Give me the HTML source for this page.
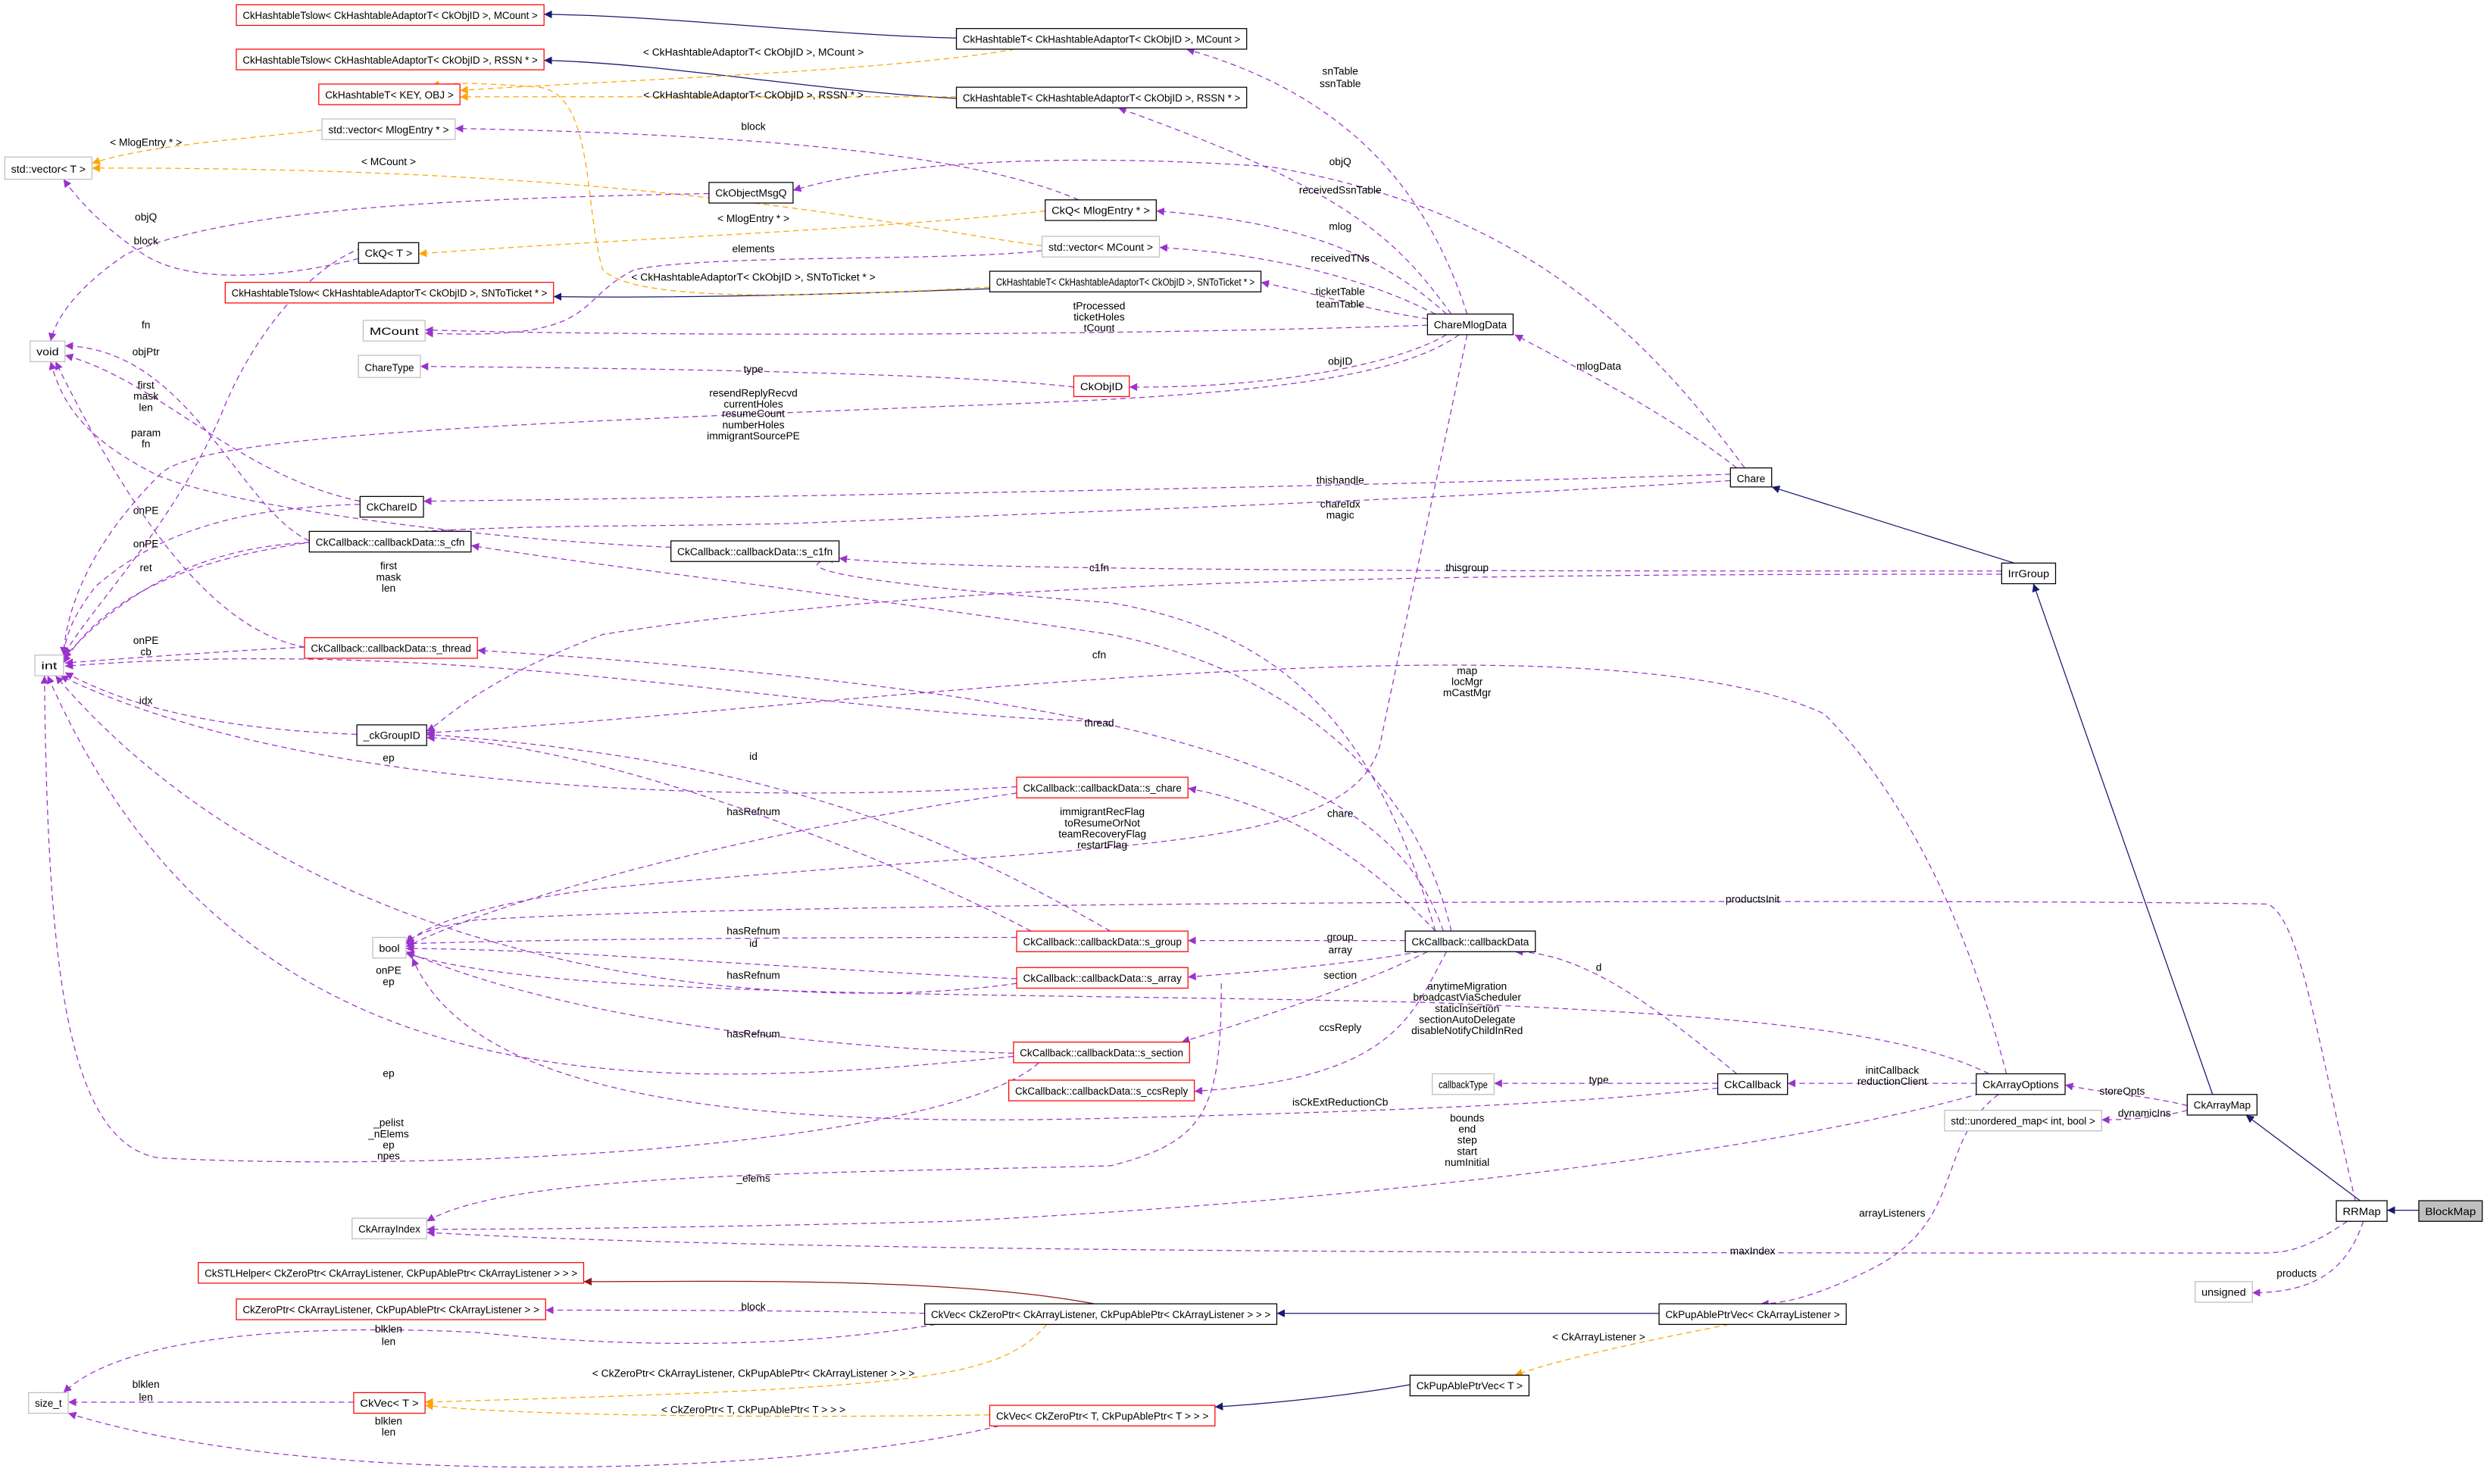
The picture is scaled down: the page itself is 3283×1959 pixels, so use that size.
<!DOCTYPE html>
<html><head><meta charset="utf-8"><style>
html,body{margin:0;padding:0;background:#fff;}
svg{display:block;}
text{font-family:"Liberation Sans Narrow","Liberation Sans",sans-serif;font-size:6.6px;fill:#000;}
.n text{text-anchor:middle;}
.l{text-anchor:middle;}
.p{stroke:#9a32cd;fill:none;stroke-width:.6;stroke-dasharray:3.5,2.5;marker-end:url(#mp);}
.o{stroke:#ffa500;fill:none;stroke-width:.6;stroke-dasharray:3.5,2.5;marker-end:url(#mo);}
.s{stroke:#191970;fill:none;stroke-width:.6;marker-end:url(#mn);}
.r{stroke:#8b1a1a;fill:none;stroke-width:.6;marker-end:url(#mr);}
.bk{fill:#fff;stroke:#000;stroke-width:.6;}
.gr{fill:#fff;stroke:#bfbfbf;stroke-width:.6;}
.rd{fill:#fff;stroke:#ff0000;stroke-width:.6;}
</style></head><body>
<svg width="3283" height="1959" viewBox="0 0 1568 935.6" preserveAspectRatio="none" xmlns="http://www.w3.org/2000/svg">
<defs>
<marker id="mp" viewBox="0 0 10 10" refX="10" refY="5" markerWidth="5" markerHeight="5" markerUnits="userSpaceOnUse" orient="auto"><path d="M0,0L10,5L0,10z" fill="#9a32cd"/></marker>
<marker id="mo" viewBox="0 0 10 10" refX="10" refY="5" markerWidth="5" markerHeight="5" markerUnits="userSpaceOnUse" orient="auto"><path d="M0,0L10,5L0,10z" fill="#ffa500"/></marker>
<marker id="mn" viewBox="0 0 10 10" refX="10" refY="5" markerWidth="5" markerHeight="5" markerUnits="userSpaceOnUse" orient="auto"><path d="M0,0L10,5L0,10z" fill="#191970"/></marker>
<marker id="mr" viewBox="0 0 10 10" refX="10" refY="5" markerWidth="5" markerHeight="5" markerUnits="userSpaceOnUse" orient="auto"><path d="M0,0L10,5L0,10z" fill="#8b1a1a"/></marker>
</defs>
<rect width="1568" height="936" fill="#fff"/>

<!-- inheritance -->
<path class="s" d="M603,24 C520,22 420,10 343,9"/>
<path class="s" d="M603,62 C520,58 420,40 343,38"/>
<path class="s" d="M624,182 C520,186 420,188 349,187"/>
<path class="s" d="M1270,355 L1117,307"/>
<path class="s" d="M1395,690 L1282,368"/>
<path class="s" d="M1488,757 L1416,703"/>
<path class="s" d="M1525,763 L1505,763"/>
<path class="s" d="M1046,828 L805,828"/>
<path class="s" d="M889,873 C850,880 800,885 766,887"/>
<path class="r" d="M690,822 C600,805 450,808 368,808"/>

<!-- templates -->
<path class="o" d="M640,31 C560,45 400,50 290,57"/><text class="l" x="475" y="35">&lt; CkHashtableAdaptorT&lt; CkObjID &gt;, MCount &gt;</text>
<path class="o" d="M603,61 L290,61"/><text class="l" x="475" y="62">&lt; CkHashtableAdaptorT&lt; CkObjID &gt;, RSSN * &gt;</text>
<path class="o" d="M624,181 C500,188 400,190 380,170 C368,130 375,60 340,55 C300,52 285,52 272,54"/><text class="l" x="475" y="177">&lt; CkHashtableAdaptorT&lt; CkObjID &gt;, SNToTicket * &gt;</text>
<path class="o" d="M203,82 C150,88 90,92 58,103"/><text class="l" x="92" y="92">&lt; MlogEntry * &gt;</text>
<path class="o" d="M657,155 C550,140 400,105 58,106"/><text class="l" x="245" y="104">&lt; MCount &gt;</text>
<path class="o" d="M659,133 C550,145 400,150 264,160"/><text class="l" x="475" y="140">&lt; MlogEntry * &gt;</text>
<path class="o" d="M1090,835 C1040,845 990,855 955,867"/><text class="l" x="1008" y="845">&lt; CkArrayListener &gt;</text>
<path class="o" d="M660,835 C630,870 580,875 268,884"/><text class="l" x="475" y="868">&lt; CkZeroPtr&lt; CkArrayListener, CkPupAblePtr&lt; CkArrayListener &gt; &gt; &gt;</text>
<path class="o" d="M624,892 C500,894 330,893 268,886"/><text class="l" x="475" y="891">&lt; CkZeroPtr&lt; T, CkPupAblePtr&lt; T &gt; &gt; &gt;</text>

<!-- members -->
<path class="p" d="M925,198 C900,120 850,60 748,31"/><text class="l" x="845" y="47">snTable</text><text class="l" x="845" y="55">ssnTable</text>
<path class="p" d="M1100,295 C1030,200 950,130 800,105 C650,95 550,105 500,120"/><text class="l" x="845" y="104">objQ</text>
<path class="p" d="M915,198 C880,150 850,120 705,68"/><text class="l" x="845" y="122">receivedSsnTable</text>
<path class="p" d="M912,198 C870,160 820,140 729,133"/><text class="l" x="845" y="145">mlog</text>
<path class="p" d="M905,198 C860,175 800,160 731,156"/><text class="l" x="845" y="165">receivedTNs</text>
<path class="p" d="M900,201 C860,195 830,185 795,178"/><text class="l" x="845" y="186">ticketTable</text><text class="l" x="845" y="194">teamTable</text>
<path class="p" d="M900,205 C700,212 400,212 268,208"/><text class="l" x="693" y="195">tProcessed</text><text class="l" x="693" y="202">ticketHoles</text><text class="l" x="693" y="209">tCount</text>
<path class="p" d="M912,211 C880,230 800,245 712,244"/><text class="l" x="845" y="230">objID</text>
<path class="p" d="M920,211 C880,240 780,250 600,256 C300,268 120,275 100,300 C60,340 42,380 40,413"/><text class="l" x="475" y="250">resendReplyRecvd</text><text class="l" x="475" y="257">currentHoles</text><text class="l" x="475" y="263">resumeCount</text><text class="l" x="475" y="270">numberHoles</text><text class="l" x="475" y="277">immigrantSourcePE</text>
<path class="p" d="M925,211 C900,330 880,420 870,470 C850,540 700,530 380,560 C300,570 265,585 256,595"/><text class="l" x="695" y="514">immigrantRecFlag</text><text class="l" x="695" y="521">toResumeOrNot</text><text class="l" x="695" y="528">teamRecoveryFlag</text><text class="l" x="695" y="535">restartFlag</text>
<path class="p" d="M677,244 C600,235 400,232 265,231"/><text class="l" x="475" y="235">type</text>
<path class="p" d="M680,126 C620,100 500,85 287,81"/><text class="l" x="475" y="82">block</text>
<path class="p" d="M447,122 C300,125 150,130 80,160 C50,180 35,200 32,215"/><text class="l" x="92" y="139">objQ</text>
<path class="p" d="M226,163 C180,175 120,180 90,160 C60,140 45,120 40,113"/><text class="l" x="92" y="154">block</text>
<path class="p" d="M657,158 C600,165 450,160 400,170 C360,190 380,215 268,210"/><text class="l" x="475" y="159">elements</text>
<path class="p" d="M1095,295 C1050,260 1000,235 955,211"/><text class="l" x="1008" y="233">mlogData</text>
<path class="p" d="M1091,299 C900,305 600,312 267,316"/><text class="l" x="845" y="305">thishandle</text>
<path class="p" d="M1091,303 C900,315 700,322 500,330 C300,335 100,320 40,418"/><text class="l" x="845" y="320">chareIdx</text><text class="l" x="845" y="327">magic</text>
<path class="p" d="M1262,360 C900,360 600,360 529,352"/><text class="l" x="925" y="360">thisgroup</text>
<path class="p" d="M905,587 C870,470 820,400 700,380 C500,365 500,355 529,352"/><text class="l" x="693" y="360">c1fn</text>
<path class="p" d="M1262,362 C900,362 600,365 380,400 C300,430 280,455 269,461"/>
<path class="p" d="M227,318 C150,320 100,335 60,370 C45,390 42,400 40,413"/><text class="l" x="92" y="324">onPE</text>
<path class="p" d="M227,316 C150,300 100,240 41,224"/><text class="l" x="92" y="224">objPtr</text>
<path class="p" d="M195,342 C130,345 80,370 40,415"/><text class="l" x="92" y="345">onPE</text>
<path class="p" d="M195,341 C150,320 120,220 41,218"/><text class="l" x="92" y="207">fn</text>
<path class="p" d="M423,345 C300,340 150,320 100,300 C60,280 40,260 32,228"/><text class="l" x="92" y="245">first</text><text class="l" x="92" y="252">mask</text><text class="l" x="92" y="259">len</text>
<path class="p" d="M240,153 C200,160 160,210 140,260 C110,330 60,380 40,413"/><text class="l" x="92" y="275">param</text><text class="l" x="92" y="282">fn</text>
<path class="p" d="M192,408 C150,400 100,360 35,228"/><text class="l" x="92" y="360">ret</text>
<path class="p" d="M192,408 C150,410 80,415 41,418"/><text class="l" x="92" y="406">onPE</text><text class="l" x="92" y="413">cb</text>
<path class="p" d="M700,455 C500,450 300,400 41,420"/><text class="l" x="245" y="359">first</text><text class="l" x="245" y="366">mask</text><text class="l" x="245" y="373">len</text>
<path class="p" d="M225,463 C150,460 90,450 41,424"/><text class="l" x="92" y="444">idx</text>
<path class="p" d="M641,496 C500,505 200,505 38,426"/><text class="l" x="245" y="480">ep</text>
<path class="p" d="M641,500 C500,520 330,560 256,597"/><text class="l" x="475" y="514">hasRefnum</text>
<path class="p" d="M700,587 C600,530 500,480 269,463"/><text class="l" x="475" y="479">id</text>
<path class="p" d="M641,591 C500,591 350,592 256,595"/><text class="l" x="475" y="589">hasRefnum</text>
<path class="p" d="M650,587 C600,560 400,470 269,465"/><text class="l" x="475" y="597">id</text>
<path class="p" d="M641,617 C520,612 350,598 256,598"/><text class="l" x="475" y="617">hasRefnum</text>
<path class="p" d="M641,620 C500,640 200,620 35,426"/><text class="l" x="245" y="614">onPE</text><text class="l" x="245" y="621">ep</text>
<path class="p" d="M639,664 C500,660 350,640 256,600"/><text class="l" x="475" y="654">hasRefnum</text>
<path class="p" d="M639,666 C400,690 150,700 30,426"/><text class="l" x="245" y="679">ep</text>
<path class="p" d="M655,670 C600,720 300,740 100,730 C40,720 30,600 28,426"/><text class="l" x="245" y="710">_pelist</text><text class="l" x="245" y="717">_nElems</text><text class="l" x="245" y="724">ep</text><text class="l" x="245" y="731">npes</text>
<path class="p" d="M770,620 C770,700 760,720 700,735 C500,740 320,740 269,770"/><text class="l" x="475" y="745">_elems</text>
<path class="p" d="M905,587 C870,550 820,510 749,497"/><text class="l" x="845" y="515">chare</text>
<path class="p" d="M910,587 C880,500 780,440 301,410"/><text class="l" x="693" y="458">thread</text>
<path class="p" d="M915,587 C890,480 800,420 700,400 C500,370 400,360 297,344"/><text class="l" x="693" y="415">cfn</text>
<path class="p" d="M886,593 L749,593"/><text class="l" x="845" y="593">group</text>
<path class="p" d="M895,600 C850,608 800,612 749,616"/><text class="l" x="845" y="601">array</text>
<path class="p" d="M900,600 C860,620 800,640 745,657"/><text class="l" x="845" y="617">section</text>
<path class="p" d="M912,600 C890,640 880,680 753,688"/><text class="l" x="845" y="650">ccsReply</text>
<path class="p" d="M1254,677 C1200,650 1100,640 900,632 C600,625 350,630 256,601"/><text class="l" x="925" y="624">anytimeMigration</text><text class="l" x="925" y="631">broadcastViaScheduler</text><text class="l" x="925" y="638">staticInsertion</text><text class="l" x="925" y="645">sectionAutoDelegate</text><text class="l" x="925" y="652">disableNotifyChildInRed</text>
<path class="p" d="M1095,677 C1050,640 1000,600 955,600"/><text class="l" x="1008" y="612">d</text>
<path class="p" d="M1083,683 L942,683"/><text class="l" x="1008" y="683">type</text>
<path class="p" d="M1083,686 C1000,695 900,700 700,705 C500,710 300,700 260,604"/><text class="l" x="845" y="697">isCkExtReductionCb</text>
<path class="p" d="M1246,683 L1127,683"/><text class="l" x="1193" y="677">initCallback</text><text class="l" x="1193" y="684">reductionClient</text>
<path class="p" d="M1260,686 C1150,720 900,755 600,770 C400,775 300,775 269,775"/><text class="l" x="925" y="707">bounds</text><text class="l" x="925" y="714">end</text>
<text class="l" x="925" y="721">step</text><text class="l" x="925" y="728">start</text><text class="l" x="925" y="735">numInitial</text>
<path class="p" d="M1265,677 C1240,580 1200,500 1150,450 C1000,380 500,450 269,462"/><text class="l" x="925" y="425">map</text><text class="l" x="925" y="432">locMgr</text><text class="l" x="925" y="439">mCastMgr</text>
<path class="p" d="M1260,690 C1220,720 1240,770 1180,800 C1140,820 1120,822 1110,822"/><text class="l" x="1193" y="767">arrayListeners</text>
<path class="p" d="M1379,697 C1350,690 1330,690 1302,684"/><text class="l" x="1338" y="690">storeOpts</text>
<path class="p" d="M1379,700 C1360,705 1340,706 1325,706"/><text class="l" x="1352" y="704">dynamicIns</text>
<path class="p" d="M1485,757 C1460,650 1450,580 1430,570 C1300,567 500,567 300,580 C270,585 262,590 256,594"/><text class="l" x="1105" y="569">productsInit</text>
<path class="p" d="M1480,770 C1450,790 1440,790 1420,790 C1000,790 500,790 269,777"/><text class="l" x="1105" y="791">maxIndex</text>
<path class="p" d="M1490,770 C1480,800 1460,815 1420,815"/><text class="l" x="1448" y="805">products</text>
<path class="p" d="M583,828 C500,826 400,826 344,826"/><text class="l" x="475" y="826">block</text>
<path class="p" d="M590,835 C500,850 400,850 300,840 C200,835 80,840 40,878"/><text class="l" x="245" y="840">blklen</text><text class="l" x="245" y="848">len</text>
<path class="p" d="M223,884 L43,884"/><text class="l" x="92" y="875">blklen</text><text class="l" x="92" y="883">len</text>
<path class="p" d="M630,899 C500,930 200,940 43,891"/><text class="l" x="245" y="898">blklen</text><text class="l" x="245" y="905">len</text>

<!-- nodes -->
<g class="n">
<rect class="rd" x="149" y="3" width="194" height="13"/><text x="246" y="12" textLength="186" lengthAdjust="spacingAndGlyphs">CkHashtableTslow&lt; CkHashtableAdaptorT&lt; CkObjID &gt;, MCount &gt;</text>
<rect class="rd" x="149" y="31" width="194" height="13"/><text x="246" y="40" textLength="186" lengthAdjust="spacingAndGlyphs">CkHashtableTslow&lt; CkHashtableAdaptorT&lt; CkObjID &gt;, RSSN * &gt;</text>
<rect class="rd" x="201" y="53" width="89" height="13"/><text x="245.5" y="62" textLength="81" lengthAdjust="spacingAndGlyphs">CkHashtableT&lt; KEY, OBJ &gt;</text>
<rect class="gr" x="203" y="75" width="84" height="13"/><text x="245" y="84" textLength="76" lengthAdjust="spacingAndGlyphs">std::vector&lt; MlogEntry * &gt;</text>
<rect class="gr" x="3" y="99" width="55" height="14"/><text x="30.5" y="109" textLength="47" lengthAdjust="spacingAndGlyphs">std::vector&lt; T &gt;</text>
<rect class="bk" x="447" y="115" width="53" height="13"/><text x="473.5" y="124" textLength="45" lengthAdjust="spacingAndGlyphs">CkObjectMsgQ</text>
<rect class="bk" x="659" y="126" width="70" height="13"/><text x="694" y="135" textLength="62" lengthAdjust="spacingAndGlyphs">CkQ&lt; MlogEntry * &gt;</text>
<rect class="bk" x="226" y="153" width="38" height="13"/><text x="245" y="162" textLength="30" lengthAdjust="spacingAndGlyphs">CkQ&lt; T &gt;</text>
<rect class="gr" x="657" y="149" width="74" height="13"/><text x="694" y="158" textLength="66" lengthAdjust="spacingAndGlyphs">std::vector&lt; MCount &gt;</text>
<rect class="rd" x="142" y="178" width="207" height="13"/><text x="245.5" y="187" textLength="199" lengthAdjust="spacingAndGlyphs">CkHashtableTslow&lt; CkHashtableAdaptorT&lt; CkObjID &gt;, SNToTicket * &gt;</text>
<rect class="bk" x="624" y="171" width="171" height="13"/><text x="709.5" y="180" textLength="163" lengthAdjust="spacingAndGlyphs">CkHashtableT&lt; CkHashtableAdaptorT&lt; CkObjID &gt;, SNToTicket * &gt;</text>
<rect class="gr" x="229" y="202" width="39" height="13"/><text x="248.5" y="211" textLength="31" lengthAdjust="spacingAndGlyphs">MCount</text>
<rect class="gr" x="226" y="224" width="39" height="14"/><text x="245.5" y="234" textLength="31" lengthAdjust="spacingAndGlyphs">ChareType</text>
<rect class="rd" x="677" y="237" width="35" height="13"/><text x="694.5" y="246" textLength="27" lengthAdjust="spacingAndGlyphs">CkObjID</text>
<rect class="gr" x="19" y="215" width="22" height="13"/><text x="30" y="224" textLength="14" lengthAdjust="spacingAndGlyphs">void</text>
<rect class="bk" x="603" y="18" width="183" height="13"/><text x="694.5" y="27" textLength="175" lengthAdjust="spacingAndGlyphs">CkHashtableT&lt; CkHashtableAdaptorT&lt; CkObjID &gt;, MCount &gt;</text>
<rect class="bk" x="603" y="55" width="183" height="13"/><text x="694.5" y="64" textLength="175" lengthAdjust="spacingAndGlyphs">CkHashtableT&lt; CkHashtableAdaptorT&lt; CkObjID &gt;, RSSN * &gt;</text>
<rect class="bk" x="900" y="198" width="54" height="13"/><text x="927" y="207" textLength="46" lengthAdjust="spacingAndGlyphs">ChareMlogData</text>
<rect class="bk" x="1091" y="295" width="26" height="12"/><text x="1104" y="304" textLength="18" lengthAdjust="spacingAndGlyphs">Chare</text>
<rect class="bk" x="1262" y="355" width="34" height="13"/><text x="1279" y="364" textLength="26" lengthAdjust="spacingAndGlyphs">IrrGroup</text>
<rect class="bk" x="227" y="313" width="40" height="13"/><text x="247" y="322" textLength="32" lengthAdjust="spacingAndGlyphs">CkChareID</text>
<rect class="bk" x="195" y="335" width="102" height="13"/><text x="246" y="344" textLength="94" lengthAdjust="spacingAndGlyphs">CkCallback::callbackData::s_cfn</text>
<rect class="bk" x="423" y="341" width="106" height="13"/><text x="476" y="350" textLength="98" lengthAdjust="spacingAndGlyphs">CkCallback::callbackData::s_c1fn</text>
<rect class="gr" x="22" y="413" width="18" height="13"/><text x="31" y="422" textLength="10" lengthAdjust="spacingAndGlyphs">int</text>
<rect class="rd" x="192" y="402" width="109" height="13"/><text x="246.5" y="411" textLength="101" lengthAdjust="spacingAndGlyphs">CkCallback::callbackData::s_thread</text>
<rect class="bk" x="225" y="457" width="44" height="13"/><text x="247" y="466" textLength="36" lengthAdjust="spacingAndGlyphs">_ckGroupID</text>
<rect class="rd" x="641" y="490" width="108" height="13"/><text x="695" y="499" textLength="100" lengthAdjust="spacingAndGlyphs">CkCallback::callbackData::s_chare</text>
<rect class="gr" x="235" y="591" width="21" height="13"/><text x="245.5" y="600" textLength="13" lengthAdjust="spacingAndGlyphs">bool</text>
<rect class="rd" x="641" y="587" width="108" height="13"/><text x="695" y="596" textLength="100" lengthAdjust="spacingAndGlyphs">CkCallback::callbackData::s_group</text>
<rect class="bk" x="886" y="587" width="82" height="13"/><text x="927" y="596" textLength="74" lengthAdjust="spacingAndGlyphs">CkCallback::callbackData</text>
<rect class="rd" x="641" y="610" width="108" height="13"/><text x="695" y="619" textLength="100" lengthAdjust="spacingAndGlyphs">CkCallback::callbackData::s_array</text>
<rect class="rd" x="639" y="657" width="111" height="13"/><text x="694.5" y="666" textLength="103" lengthAdjust="spacingAndGlyphs">CkCallback::callbackData::s_section</text>
<rect class="rd" x="636" y="681" width="117" height="13"/><text x="694.5" y="690" textLength="109" lengthAdjust="spacingAndGlyphs">CkCallback::callbackData::s_ccsReply</text>
<rect class="gr" x="903" y="677" width="39" height="13"/><text x="922.5" y="686" textLength="31" lengthAdjust="spacingAndGlyphs">callbackType</text>
<rect class="bk" x="1083" y="677" width="44" height="13"/><text x="1105" y="686" textLength="36" lengthAdjust="spacingAndGlyphs">CkCallback</text>
<rect class="bk" x="1246" y="677" width="56" height="13"/><text x="1274" y="686" textLength="48" lengthAdjust="spacingAndGlyphs">CkArrayOptions</text>
<rect class="bk" x="1379" y="690" width="44" height="13"/><text x="1401" y="699" textLength="36" lengthAdjust="spacingAndGlyphs">CkArrayMap</text>
<rect class="gr" x="1226" y="700" width="99" height="13"/><text x="1275.5" y="709" textLength="91" lengthAdjust="spacingAndGlyphs">std::unordered_map&lt; int, bool &gt;</text>
<rect class="gr" x="222" y="768" width="47" height="13"/><text x="245.5" y="777" textLength="39" lengthAdjust="spacingAndGlyphs">CkArrayIndex</text>
<rect class="bk" x="1473" y="757" width="32" height="13"/><text x="1489" y="766" textLength="24" lengthAdjust="spacingAndGlyphs">RRMap</text>
<rect x="1525" y="757" width="40" height="13" fill="#bfbfbf" stroke="#000" stroke-width=".6"/><text x="1545" y="766" textLength="32" lengthAdjust="spacingAndGlyphs">BlockMap</text>
<rect class="gr" x="1384" y="808" width="36" height="13"/><text x="1402" y="817" textLength="28" lengthAdjust="spacingAndGlyphs">unsigned</text>
<rect class="rd" x="125" y="796" width="243" height="13"/><text x="246.5" y="805" textLength="235" lengthAdjust="spacingAndGlyphs">CkSTLHelper&lt; CkZeroPtr&lt; CkArrayListener, CkPupAblePtr&lt; CkArrayListener &gt; &gt; &gt;</text>
<rect class="rd" x="149" y="819" width="195" height="13"/><text x="246.5" y="828" textLength="187" lengthAdjust="spacingAndGlyphs">CkZeroPtr&lt; CkArrayListener, CkPupAblePtr&lt; CkArrayListener &gt; &gt;</text>
<rect class="bk" x="583" y="822" width="222" height="13"/><text x="694" y="831" textLength="214" lengthAdjust="spacingAndGlyphs">CkVec&lt; CkZeroPtr&lt; CkArrayListener, CkPupAblePtr&lt; CkArrayListener &gt; &gt; &gt;</text>
<rect class="bk" x="1046" y="822" width="118" height="13"/><text x="1105" y="831" textLength="110" lengthAdjust="spacingAndGlyphs">CkPupAblePtrVec&lt; CkArrayListener &gt;</text>
<rect class="gr" x="18" y="878" width="25" height="13"/><text x="30.5" y="887" textLength="17" lengthAdjust="spacingAndGlyphs">size_t</text>
<rect class="rd" x="223" y="878" width="45" height="13"/><text x="245.5" y="887" textLength="37" lengthAdjust="spacingAndGlyphs">CkVec&lt; T &gt;</text>
<rect class="bk" x="889" y="867" width="75" height="13"/><text x="926.5" y="876" textLength="67" lengthAdjust="spacingAndGlyphs">CkPupAblePtrVec&lt; T &gt;</text>
<rect class="rd" x="624" y="886" width="142" height="13"/><text x="695" y="895" textLength="134" lengthAdjust="spacingAndGlyphs">CkVec&lt; CkZeroPtr&lt; T, CkPupAblePtr&lt; T &gt; &gt; &gt;</text>
</g>
</svg>
</body></html>
